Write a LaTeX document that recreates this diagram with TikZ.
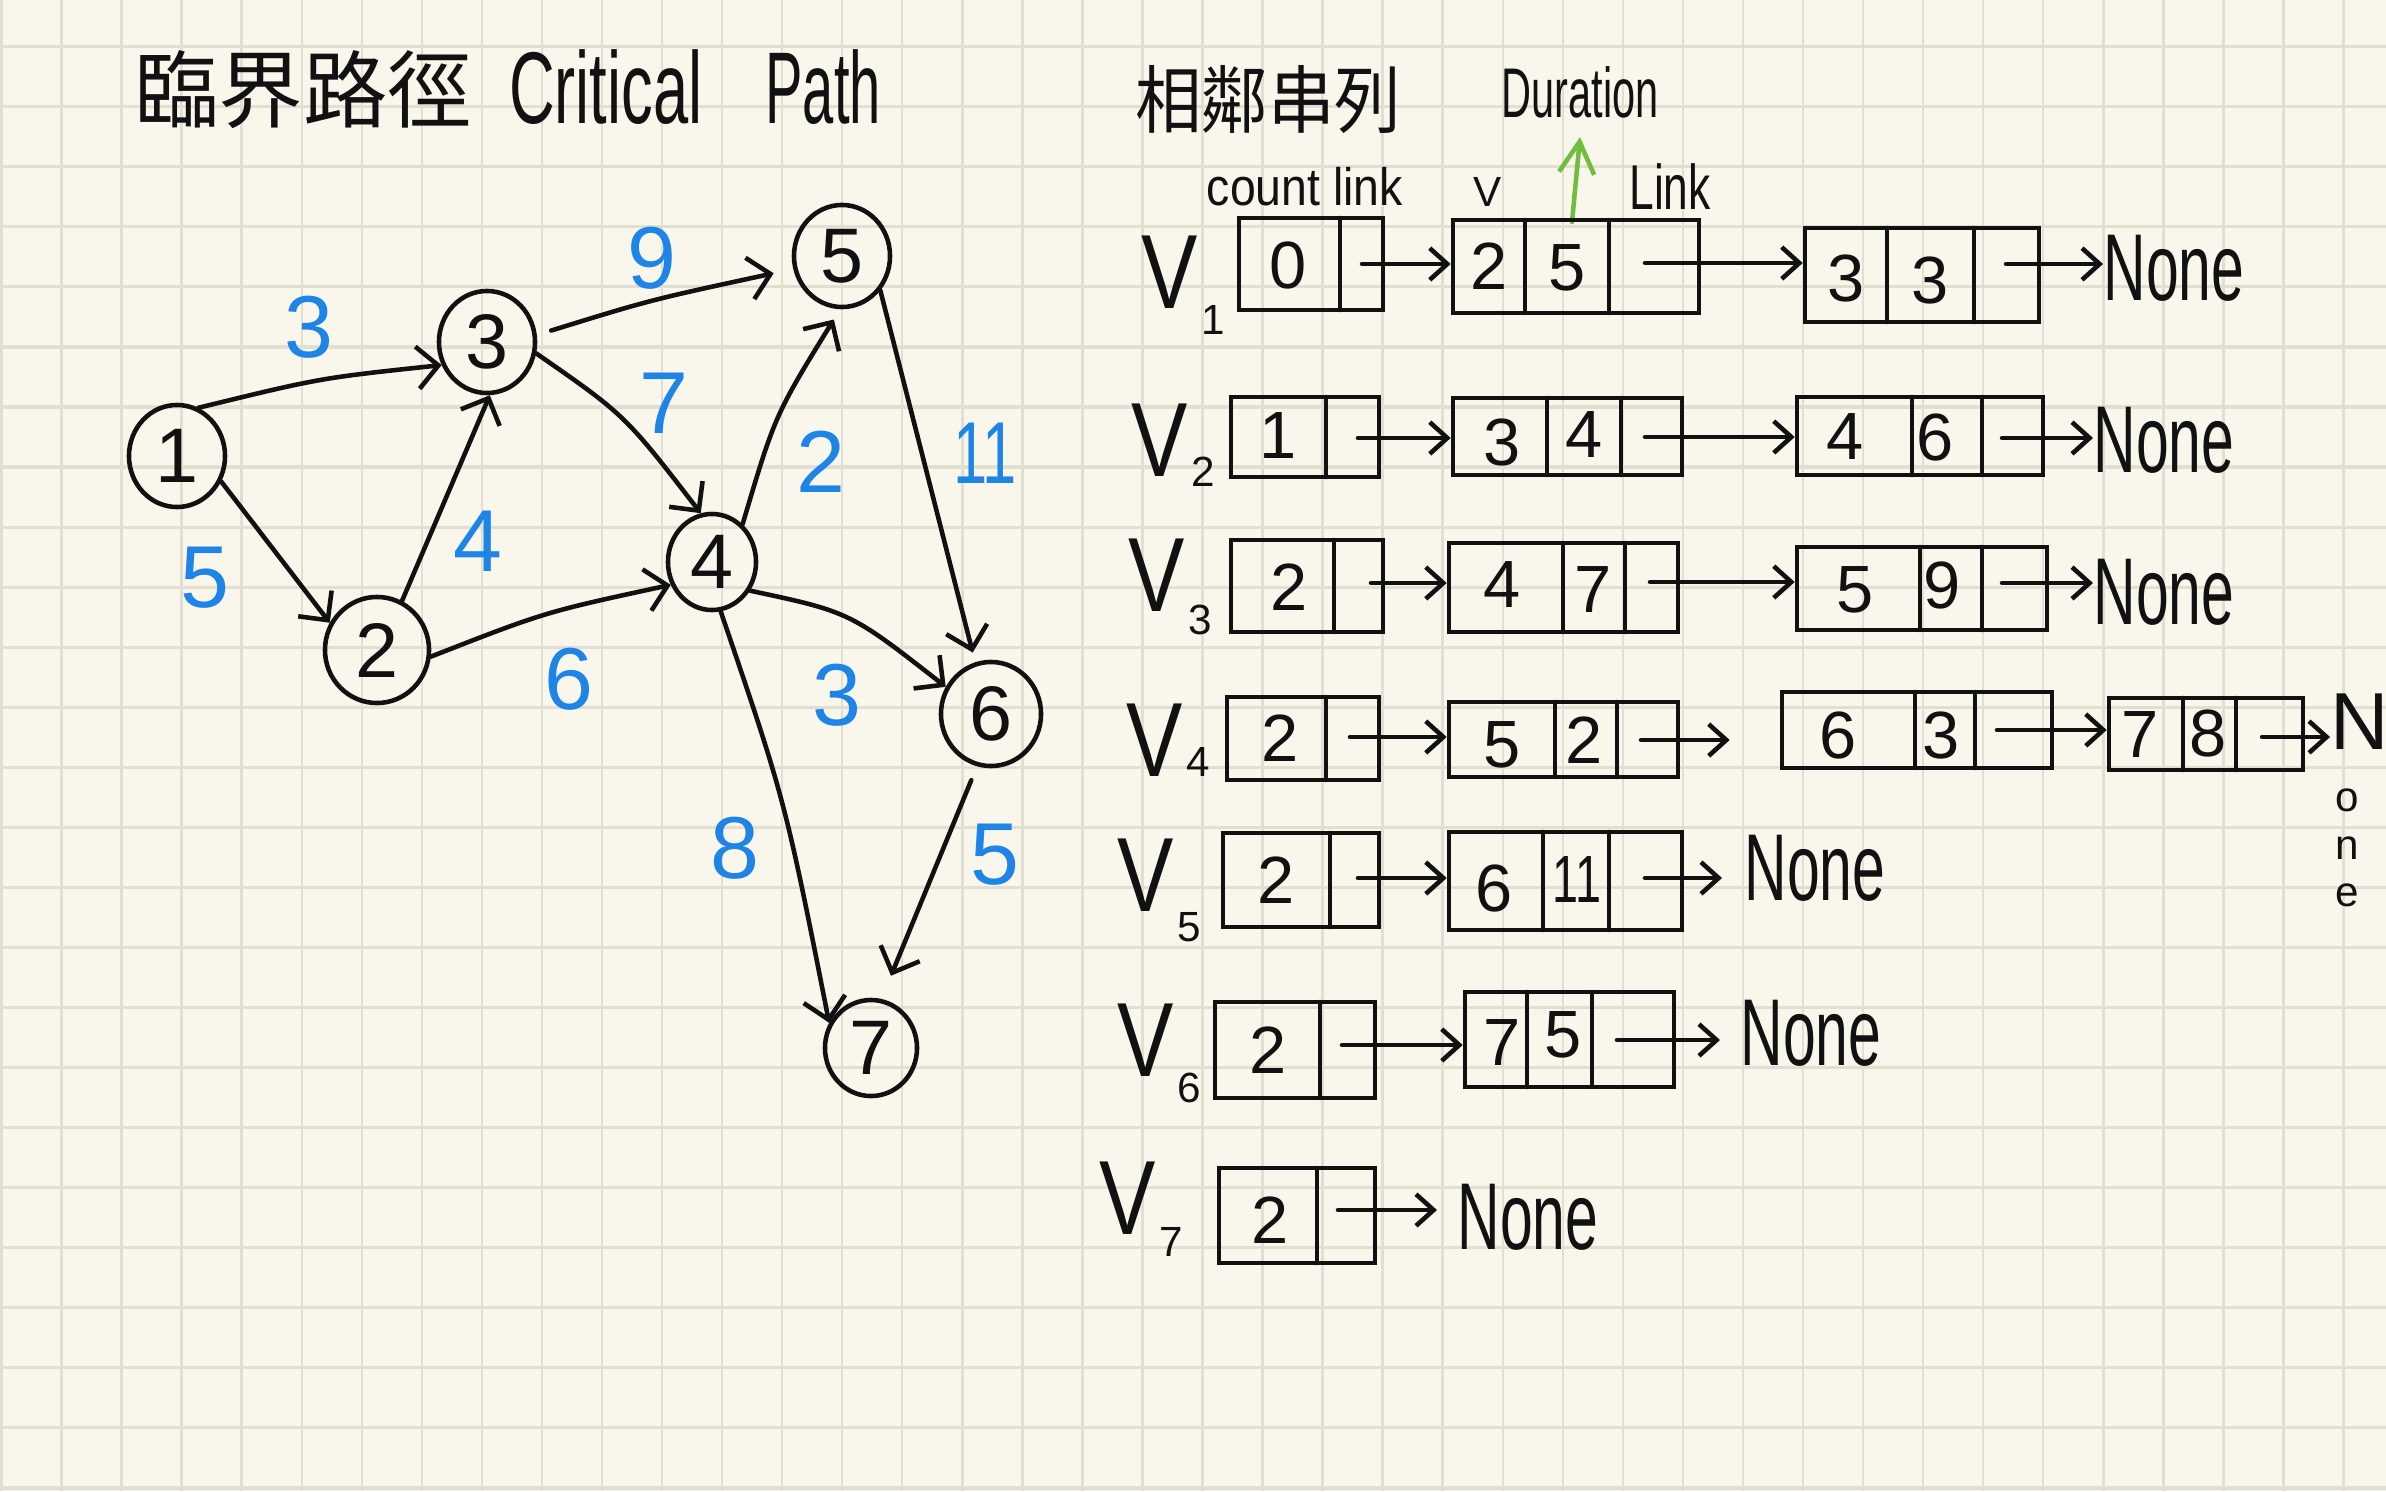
\documentclass[tikz,border=0pt]{standalone}
\usepackage{fontspec}
\setmainfont{Liberation Sans}
\newfontfamily\cjkfont{Noto Sans CJK TC}
\usetikzlibrary{arrows.meta,shapes.geometric,fit}
\definecolor{paper}{RGB}{249,247,235}
\definecolor{gridc}{RGB}{226,223,210}
\definecolor{inkc}{RGB}{17,17,17}
\definecolor{lblue}{RGB}{30,132,230}
\definecolor{lgreen}{RGB}{112,190,62}
\newcommand\nonetxt{\scalebox{0.62}[1]{None}}
\newcommand\vtxt{\scalebox{0.8}[1]{V}}
\begin{document}
\begin{tikzpicture}[x=0.01cm,y=-0.01cm,
  pen/.style={draw=inkc,line width=1.3pt,line cap=round,line join=round},
  garr/.style={pen,-{Straight Barb[length=6pt,width=12pt]}},
  larr/.style={pen,-{Straight Barb[length=5pt,width=9pt]}},
  vert/.style={ellipse,draw=inkc,line width=1.3pt,minimum width=0.96cm,minimum height=1.02cm,inner sep=0pt,text=inkc,font=\fontsize{22}{24}\selectfont},
  wlab/.style={text=lblue,inner sep=0pt,font=\fontsize{25}{28}\selectfont},
  lbox/.style={draw=inkc,line width=1.3pt,inner sep=0pt},
  num/.style={text=inkc,inner sep=0pt,font=\fontsize{19}{21}\selectfont},
  vname/.style={text=inkc,inner sep=0pt,font=\fontsize{30}{32}\selectfont},
  vsub/.style={text=inkc,inner sep=0pt,font=\fontsize{12}{14}\selectfont},
  nonelab/.style={text=inkc,inner sep=0pt,anchor=west,font=\fontsize{27}{30}\selectfont},
  small/.style={text=inkc,inner sep=0pt}
]
% paper
\useasboundingbox (0,0) rectangle (2386,1491);
\fill[paper] (0,0) rectangle (2386,1491);
\foreach \i in {0,...,39} \draw[gridc,line width=0.7pt] ({1.5+60.05*\i},0) -- ({1.5+60.05*\i},1491);
\foreach \j in {0,...,24} \draw[gridc,line width=0.9pt] (0,{46.7+60.05*\j}) -- (2386,{46.7+60.05*\j});

% titles
\node[small,font=\fontsize{24}{26}\selectfont\cjkfont] (t1) at (303,90) {臨界路徑};
\node[small,font=\fontsize{29}{32}\selectfont] (t2) at (695,87) {\scalebox{0.62}[1]{Critical}\hspace{0.63cm}\scalebox{0.55}[1]{Path}};
\node[small,font=\fontsize{21}{24}\selectfont\cjkfont] (t3) at (1268,100) {\scalebox{0.9}[1]{相鄰串列}};
\node[small,font=\fontsize{20}{22}\selectfont] (dur) at (1580,92) {\scalebox{0.59}[1]{Duration}};
\coordinate (gs) at (1572,222);
\coordinate (ge) at (1580,137);
\draw[pen,draw=lgreen,-{Straight Barb[length=9pt,width=10pt]}] (gs) -- (ge);
\node[small,font=\fontsize{15}{17}\selectfont] (cl) at (1305,187) {\scalebox{0.88}[1]{count link}};
\node[small,font=\fontsize{12}{14}\selectfont] (vl) at (1488,192) {V};
\node[small,font=\fontsize{18}{20}\selectfont] (lk) at (1670,187) {\scalebox{0.7}[1]{Link}};

% graph vertices
\node[vert] (n1) at (177,456) {1};
\node[vert,minimum width=1.04cm,minimum height=1.06cm] (n2) at (377,650) {2};
\node[vert] (n3) at (487,342) {3};
\node[vert,minimum width=0.88cm,minimum height=0.96cm] (n4) at (712,562) {4};
\node[vert] (n5) at (842,256) {5};
\node[vert,minimum width=1.0cm,minimum height=1.04cm] (n6) at (991,714) {6};
\node[vert,minimum width=0.92cm,minimum height=0.96cm] (n7) at (871,1048) {7};

% graph edges
\draw[garr] (n1.66) .. controls (320,378) .. (n3.207);
\draw[garr] (n1.330) -- (n2.150);
\draw[garr] (n2.63) -- (n3.273);
\draw[garr] (n2.353) .. controls (545,612) .. (n4.209);
\draw[garr,shorten <=0.15cm,shorten >=0.2cm] (n3.8) .. controls (650,300) .. (n5.195);
\draw[garr] (n3.347) .. controls (625,415) .. (n4.103);
\draw[garr,shorten >=0.12cm] (n4.51) .. controls (775,415) .. (n5.268);
\draw[garr,shorten >=0.1cm] (n5.318) -- (n6.107);
\draw[garr] (n4.323) .. controls (850,612) .. (n6.149);
\draw[garr] (n4.280) .. controls (785,800) .. (n7.149);
\draw[garr,shorten <=0.15cm,shorten >=0.25cm] (n6.255) -- (n7.78);

% weights
\node[wlab] (w13) at (309,327) {3};
\node[wlab] (w12) at (205,578) {5};
\node[wlab] (w23) at (478,541) {4};
\node[wlab] (w24) at (569,679) {6};
\node[wlab] (w35) at (652,258) {9};
\node[wlab] (w34) at (664,403) {7};
\node[wlab] (w45) at (821,462) {2};
\node[wlab] (w56) at (985,453) {\scalebox{0.7}[1]{11}};
\node[wlab] (w46) at (837,695) {3};
\node[wlab] (w47) at (735,848) {8};
\node[wlab] (w67) at (995,855) {5};

% ---- V1
\node[vname] (v1) at (1170,272) {\vtxt};
\node[vsub] (v1s) at (1213,320) {1};
\node[lbox,fit={(1239,218) (1383,310)}] (b11) {};
\draw[pen] (1340,218) -- (1340,310);
\node[num] (b11a) at (1288,265) {0};
\coordinate (b11l) at (1362,264);
\node[lbox,fit={(1453,220) (1699,313)}] (b12) {};
\draw[pen] (1525,220) -- (1525,313) (1609,220) -- (1609,313);
\node[num] (b12a) at (1489,266) {2};
\node[num] (b12b) at (1567,268) {5};
\coordinate (b12l) at (1645,263);
\node[lbox,fit={(1805,228) (2039,322)}] (b13) {};
\draw[pen] (1887,228) -- (1887,322) (1974,228) -- (1974,322);
\node[num] (b13a) at (1846,278) {3};
\node[num] (b13b) at (1930,280) {3};
\coordinate (b13l) at (2006,264);
\node[nonelab] (none1) at (2103,268) {\nonetxt};
\draw[larr] (b11l) -- (b12.west |- b11l);
\draw[larr] (b12l) -- (b13.west |- b12l);
\draw[larr] (b13l) -- (none1.west |- b13l);

% ---- V2
\node[vname] (v2) at (1160,440) {\vtxt};
\node[vsub] (v2s) at (1203,472) {2};
\node[lbox,fit={(1231,397) (1379,477)}] (b21) {};
\draw[pen] (1326,397) -- (1326,477);
\node[num] (b21a) at (1278,436) {1};
\coordinate (b21l) at (1358,438);
\node[lbox,fit={(1453,398) (1682,475)}] (b22) {};
\draw[pen] (1547,398) -- (1547,475) (1621,398) -- (1621,475);
\node[num] (b22a) at (1502,442) {3};
\node[num] (b22b) at (1584,435) {4};
\coordinate (b22l) at (1645,437);
\node[lbox,fit={(1797,397) (2043,475)}] (b23) {};
\draw[pen] (1912,397) -- (1912,475) (1982,397) -- (1982,475);
\node[num] (b23a) at (1845,437) {4};
\node[num] (b23b) at (1935,437) {6};
\coordinate (b23l) at (2002,438);
\node[nonelab] (none2) at (2093,440) {\nonetxt};
\draw[larr] (b21l) -- (b22.west |- b21l);
\draw[larr] (b22l) -- (b23.west |- b22l);
\draw[larr] (b23l) -- (none2.west |- b23l);

% ---- V3
\node[vname] (v3) at (1157,575) {\vtxt};
\node[vsub] (v3s) at (1200,620) {3};
\node[lbox,fit={(1231,540) (1383,632)}] (b31) {};
\draw[pen] (1334,540) -- (1334,632);
\node[num] (b31a) at (1289,587) {2};
\coordinate (b31l) at (1371,583);
\node[lbox,fit={(1449,543) (1678,632)}] (b32) {};
\draw[pen] (1563,543) -- (1563,632) (1625,543) -- (1625,632);
\node[num] (b32a) at (1502,585) {4};
\node[num] (b32b) at (1593,590) {7};
\coordinate (b32l) at (1650,582);
\node[lbox,fit={(1797,547) (2047,630)}] (b33) {};
\draw[pen] (1920,547) -- (1920,630) (1982,547) -- (1982,630);
\node[num] (b33a) at (1855,590) {5};
\node[num] (b33b) at (1942,585) {9};
\coordinate (b33l) at (2002,583);
\node[nonelab] (none3) at (2093,592) {\nonetxt};
\draw[larr] (b31l) -- (b32.west |- b31l);
\draw[larr] (b32l) -- (b33.west |- b32l);
\draw[larr] (b33l) -- (none3.west |- b33l);

% ---- V4
\node[vname] (v4) at (1155,740) {\vtxt};
\node[vsub] (v4s) at (1198,762) {4};
\node[lbox,fit={(1227,697) (1379,780)}] (b41) {};
\draw[pen] (1326,697) -- (1326,780);
\node[num] (b41a) at (1280,738) {2};
\coordinate (b41l) at (1350,737);
\node[lbox,fit={(1449,702) (1678,777)}] (b42) {};
\draw[pen] (1555,702) -- (1555,777) (1617,702) -- (1617,777);
\node[num] (b42a) at (1502,745) {5};
\node[num] (b42b) at (1584,740) {2};
\coordinate (b42l) at (1641,740);
\node[lbox,fit={(1782,692) (2052,768)}] (b43) {};
\draw[pen] (1915,692) -- (1915,768) (1975,692) -- (1975,768);
\node[num] (b43a) at (1838,735) {6};
\node[num] (b43b) at (1941,735) {3};
\coordinate (b43l) at (1997,730);
\node[lbox,fit={(2109,698) (2303,770)}] (b44) {};
\draw[pen] (2183,698) -- (2183,770) (2236,698) -- (2236,770);
\node[num] (b44a) at (2140,735) {7};
\node[num] (b44b) at (2208,733) {8};
\coordinate (b44l) at (2262,737);
\node[small,anchor=west,font=\fontsize{23}{25}\selectfont] (none4) at (2330,722) {N};
\node[small,align=center,font=\fontsize{12}{13.5}\selectfont] (none4b) at (2347,848) {o\\n\\e};
\draw[larr] (b41l) -- (b42.west |- b41l);
\draw[larr,shorten >=0.5cm] (b42l) -- (b43.west |- b42l);
\draw[larr] (b43l) -- (b44.west |- b43l);
\draw[larr] (b44l) -- (none4.west |- b44l);

% ---- V5
\node[vname] (v5) at (1146,875) {\vtxt};
\node[vsub] (v5s) at (1189,927) {5};
\node[lbox,fit={(1223,833) (1379,927)}] (b51) {};
\draw[pen] (1330,833) -- (1330,927);
\node[num] (b51a) at (1276,880) {2};
\coordinate (b51l) at (1358,878);
\node[lbox,fit={(1449,832) (1682,930)}] (b52) {};
\draw[pen] (1543,832) -- (1543,930) (1609,832) -- (1609,930);
\node[num] (b52a) at (1494,888) {6};
\node[num] (b52b) at (1577,880) {\scalebox{0.7}[1]{11}};
\coordinate (b52l) at (1645,878);
\node[nonelab] (none5) at (1744,868) {\nonetxt};
\draw[larr] (b51l) -- (b52.west |- b51l);
\draw[larr,shorten >=0.22cm] (b52l) -- (none5.west |- b52l);

% ---- V6
\node[vname] (v6) at (1146,1040) {\vtxt};
\node[vsub] (v6s) at (1189,1088) {6};
\node[lbox,fit={(1215,1002) (1375,1098)}] (b61) {};
\draw[pen] (1320,1002) -- (1320,1098);
\node[num] (b61a) at (1268,1050) {2};
\coordinate (b61l) at (1342,1045);
\node[lbox,fit={(1465,992) (1674,1087)}] (b62) {};
\draw[pen] (1527,992) -- (1527,1087) (1592,992) -- (1592,1087);
\node[num] (b62a) at (1502,1042) {7};
\node[num] (b62b) at (1563,1035) {5};
\coordinate (b62l) at (1617,1040);
\node[nonelab] (none6) at (1740,1033) {\nonetxt};
\draw[larr] (b61l) -- (b62.west |- b61l);
\draw[larr,shorten >=0.2cm] (b62l) -- (none6.west |- b62l);

% ---- V7
\node[vname] (v7) at (1128,1198) {\vtxt};
\node[vsub] (v7s) at (1171,1242) {7};
\node[lbox,fit={(1219,1168) (1375,1263)}] (b71) {};
\draw[pen] (1317,1168) -- (1317,1263);
\node[num] (b71a) at (1270,1220) {2};
\coordinate (b71l) at (1338,1210);
\node[nonelab] (none7) at (1457,1217) {\nonetxt};
\draw[larr,shorten >=0.2cm] (b71l) -- (none7.west |- b71l);
\end{tikzpicture}
\end{document}
